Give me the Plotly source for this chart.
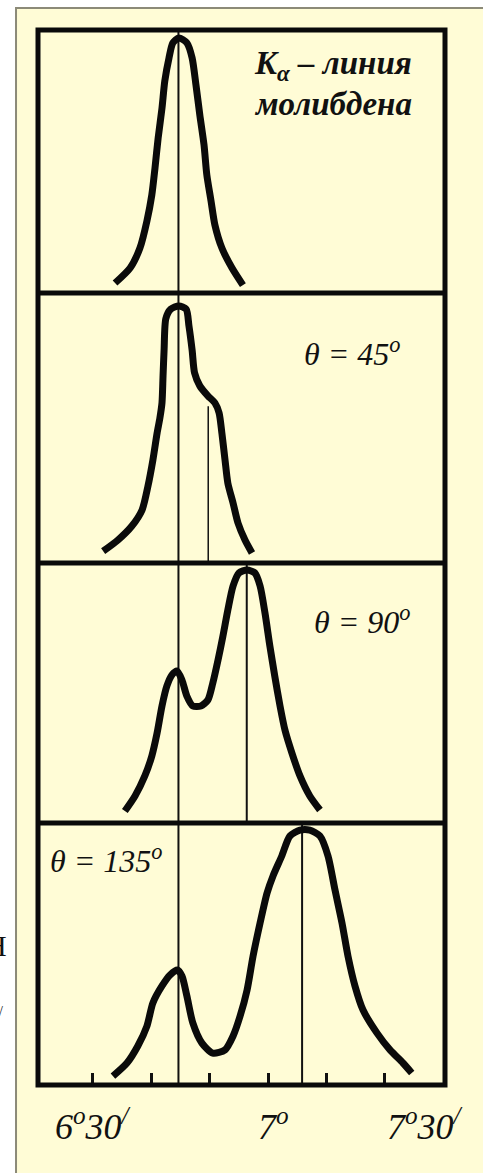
import plotly.graph_objects as go
from plotly.subplots import make_subplots

# --- Data: angle (degrees) vs relative intensity per panel ---
P1_X = [6.563, 6.606, 6.634, 6.654, 6.668, 6.677, 6.686, 6.697, 6.705, 6.717, 6.728, 6.745,
        6.768, 6.783, 6.794, 6.805, 6.817, 6.825, 6.837, 6.848, 6.868, 6.897, 6.928]
P1_Y = [0.038, 0.095, 0.171, 0.274, 0.373, 0.475, 0.589, 0.703, 0.806, 0.894, 0.951, 0.970,
        0.951, 0.894, 0.791, 0.677, 0.563, 0.449, 0.350, 0.259, 0.171, 0.095, 0.030]

P2_X = [6.529, 6.571, 6.611, 6.640, 6.657, 6.671, 6.683, 6.691, 6.697, 6.700, 6.703, 6.708,
        6.722, 6.745, 6.766, 6.774, 6.783, 6.790, 6.805, 6.828, 6.848, 6.860, 6.868, 6.877,
        6.885, 6.900, 6.914, 6.934, 6.954]
P2_Y = [0.044, 0.085, 0.137, 0.196, 0.285, 0.381, 0.481, 0.537, 0.593, 0.693, 0.789, 0.905,
        0.940, 0.952, 0.940, 0.878, 0.789, 0.704, 0.656, 0.619, 0.593, 0.556, 0.481, 0.381,
        0.296, 0.222, 0.148, 0.085, 0.037]

P3_X = [6.591, 6.620, 6.648, 6.668, 6.683, 6.697, 6.711, 6.725, 6.740, 6.754, 6.768, 6.785,
        6.808, 6.828, 6.842, 6.857, 6.871, 6.885, 6.900, 6.917, 6.940, 6.962, 6.977, 6.991,
        7.005, 7.019, 7.034, 7.048, 7.068, 7.091, 7.119, 7.148]
P3_Y = [0.046, 0.104, 0.181, 0.258, 0.346, 0.450, 0.527, 0.569, 0.585, 0.550, 0.488, 0.450,
        0.450, 0.473, 0.538, 0.627, 0.719, 0.819, 0.912, 0.962, 0.973, 0.962, 0.912, 0.808,
        0.681, 0.565, 0.450, 0.358, 0.269, 0.181, 0.104, 0.050]

P4_X = [6.557, 6.597, 6.628, 6.654, 6.671, 6.697, 6.720, 6.741, 6.754, 6.768, 6.785, 6.811,
        6.842, 6.877, 6.900, 6.920, 6.940, 6.957, 6.977, 6.997, 7.014, 7.039, 7.062, 7.091,
        7.119, 7.148, 7.171, 7.191, 7.211, 7.228, 7.248, 7.271, 7.311, 7.348, 7.385, 7.410]
P4_Y = [0.034, 0.084, 0.149, 0.225, 0.313, 0.378, 0.420, 0.439, 0.416, 0.340, 0.237, 0.160,
        0.122, 0.134, 0.187, 0.263, 0.363, 0.492, 0.618, 0.733, 0.798, 0.874, 0.950, 0.973,
        0.973, 0.950, 0.874, 0.744, 0.618, 0.492, 0.378, 0.286, 0.198, 0.134, 0.084, 0.046]

MAIN_LINE_X = 6.744                       # unshifted line, through all panels
SHIFTED_LINE_X = [None, 6.829, 6.939, 7.097]
SHIFTED_LINE_TOP = [None, 0.581, 1.0, 1.0]

PANEL_LABELS = ["<b><i>K<sub>α</sub> – линия</i></b>", "<i>θ = 45<sup>o</sup></i>",
                "<i>θ = 90<sup>o</sup></i>", "<i>θ = 135<sup>o</sup></i>"]
SUBLABEL = "<b><i>молибдена</i></b>"

TICK_VALS = [6.5, 6 + 40 / 60, 6 + 50 / 60, 7.0, 7 + 10 / 60, 7 + 20 / 60]
LABEL_VALS = [6.5, 7.0, 7.5]
LABEL_TEXT = ["6<sup>o</sup>30<sup>/</sup>", "7<sup>o</sup>", "7<sup>o</sup>30<sup>/</sup>"]

# --- Style ---
BG = "#FFFCD6"
FONT = "Liberation Serif"
X_RANGE = [6.343, 7.505]
ROW_H = [263, 270, 260, 262]


def build_figure():
    fig = make_subplots(rows=4, cols=1, shared_xaxes=True, vertical_spacing=0,
                        row_heights=ROW_H)
    curves = [(P1_X, P1_Y), (P2_X, P2_Y), (P3_X, P3_Y), (P4_X, P4_Y)]
    for i, (xs, ys) in enumerate(curves):
        r = i + 1
        fig.add_trace(go.Scatter(x=[MAIN_LINE_X, MAIN_LINE_X], y=[0, 1], mode="lines",
                                 line=dict(color="#111", width=2), hoverinfo="skip"), row=r, col=1)
        if SHIFTED_LINE_X[i] is not None:
            w = 1.5 if i == 1 else 2
            fig.add_trace(go.Scatter(x=[SHIFTED_LINE_X[i]] * 2, y=[0, SHIFTED_LINE_TOP[i]],
                                     mode="lines", line=dict(color="#111", width=w),
                                     hoverinfo="skip"), row=r, col=1)
        fig.add_trace(go.Scatter(x=xs, y=ys, mode="lines",
                                 line=dict(color="#0a0a0a", width=7, shape="spline", smoothing=0.7)),
                      row=r, col=1)
        fig.update_yaxes(range=[0, 1], visible=False, row=r, col=1)
        fig.update_xaxes(range=X_RANGE, showgrid=False, zeroline=False, showticklabels=False,
                         ticks="", row=r, col=1)

    fig.update_xaxes(ticks="inside", tickvals=TICK_VALS, ticklen=12, tickwidth=3,
                     tickcolor="#111", row=4, col=1)

    # frame and panel dividers
    shapes = [dict(type="rect", xref="paper", yref="paper", x0=-0.054, x1=1.2, y0=-0.2, y1=1.0209,
                   fillcolor=BG, line=dict(color="#8c8a78", width=2), layer="below"),
              dict(type="rect", xref="paper", yref="paper", x0=0, x1=1, y0=0, y1=1,
                   line=dict(color="#0a0a0a", width=5), layer="above")]
    total = sum(ROW_H)
    acc = 0
    for h in ROW_H[:-1]:
        acc += h
        yb = 1 - acc / total
        shapes.append(dict(type="line", xref="paper", yref="paper", x0=0, x1=1, y0=yb, y1=yb,
                           line=dict(color="#0a0a0a", width=5), layer="above"))

    annotations = [
        dict(text=PANEL_LABELS[0], x=0.7248, y=0.9668, font=dict(size=33)),
        dict(text=SUBLABEL, x=0.7248, y=0.9299, font=dict(size=33)),
        dict(text=PANEL_LABELS[1], x=0.772, y=0.6948, font=dict(size=32)),
        dict(text=PANEL_LABELS[2], x=0.798, y=0.4408, font=dict(size=32)),
        dict(text=PANEL_LABELS[3], x=0.168, y=0.2142, font=dict(size=32)),
        # clipped letters from the neighbouring slide text
        dict(text="Н", x=-0.072, y=0.132, xanchor="right", font=dict(size=30)),
        dict(text="/", x=-0.08, y=0.07, xanchor="right", font=dict(size=14)),
    ]
    for a in annotations:
        a.setdefault("xref", "paper")
        a.setdefault("yref", "paper")
        a.setdefault("xanchor", "center")
        a.setdefault("yanchor", "middle")
        a.setdefault("showarrow", False)
        a["font"] = dict(family=FONT, color="#111", **a["font"])
    shifts = [0, 5, -18]
    for xv, txt, sh in zip(LABEL_VALS, LABEL_TEXT, shifts):
        annotations.append(dict(text=f"<i>{txt}</i>", x=xv, xref="x4", y=-0.037, yref="paper",
                                xanchor="center", yanchor="middle", xshift=sh, showarrow=False,
                                font=dict(family=FONT, size=36, color="#111")))

    fig.update_layout(width=483, height=1173, margin=dict(l=38, r=38, t=30, b=88),
                      paper_bgcolor="white", plot_bgcolor=BG, showlegend=False,
                      shapes=shapes, annotations=annotations)
    return fig


def main():
    fig = build_figure()
    # drop the default page margin so the figure sits at the window corner
    fig.write_html("out.html", config={"displayModeBar": False},
                   post_script="document.body.style.margin='0';")


if __name__ == "__main__":
    main()
